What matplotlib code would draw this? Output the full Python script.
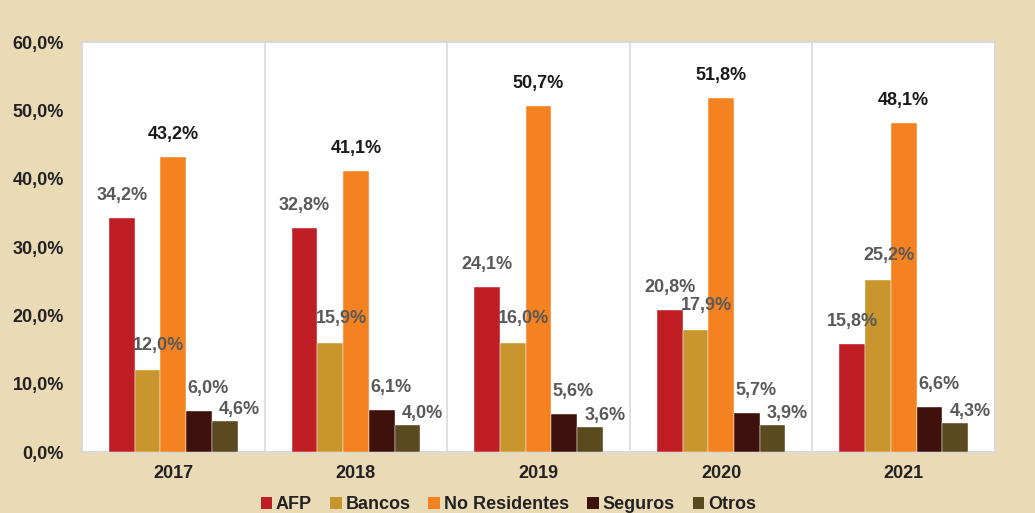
import numpy as np
import matplotlib.pyplot as plt
from matplotlib.patches import Patch

plt.rcParams['font.family'] = ['Liberation Sans', 'DejaVu Sans']

years = ['2017', '2018', '2019', '2020', '2021']
series = ['AFP', 'Bancos', 'No Residentes', 'Seguros', 'Otros']
afp = [34.2, 32.8, 24.1, 20.8, 15.8]
bancos = [12.0, 15.9, 16.0, 17.9, 25.2]
no_res = [43.2, 41.1, 50.7, 51.8, 48.1]
seguros = [6.0, 6.1, 5.6, 5.7, 6.6]
otros = [4.6, 4.0, 3.6, 3.9, 4.3]

colors = ['#BE1E24', '#C9962E', '#F58220', '#3F110C', '#5C4A1F']
# label offsets in pixels (dx, dy) and colour per series
lab_dx = [0, 11, 0, 9, 15]
lab_dy = [14, 16, 14, 14, 3]
lab_col = ['#595959', '#595959', '#1a1a1a', '#595959', '#595959']

bg = '#EBDAB6'
fig = plt.figure(figsize=(10.35, 5.13), dpi=100, facecolor=bg)
ax = fig.add_axes([0.0792, 0.1189, 0.8822, 0.7991])

data = [afp, bancos, no_res, seguros, otros]
x = np.arange(len(years))
w = 0.141
for i, vals in enumerate(data):
    pos = x + (i - 2) * w
    bars = ax.bar(pos, vals, width=w, color=colors[i], label=series[i],
                  edgecolor='white', linewidth=0.3, zorder=3)
    for b, v in zip(bars, vals):
        ax.annotate(f"{v:.1f}%".replace('.', ','),
                    (b.get_x() + b.get_width() / 2, v),
                    xytext=(lab_dx[i], lab_dy[i]), textcoords='offset pixels',
                    ha='center', va='bottom', fontsize=13, fontweight='bold',
                    color=lab_col[i], zorder=4)

ax.set_xlim(-0.5, len(years) - 0.5)
ax.set_ylim(0, 60)
ax.set_yticks(np.arange(0, 61, 10))
ax.set_yticklabels([f"{t:.1f}%".replace('.', ',') for t in np.arange(0, 61, 10)])
ax.set_xticks(x)
ax.set_xticklabels(years)
ax.tick_params(length=0, labelsize=13, colors='#222222')
ax.tick_params(axis='y', pad=13)
ax.tick_params(axis='x', pad=9)
for lbl in ax.get_xticklabels() + ax.get_yticklabels():
    lbl.set_fontweight('bold')

for s in x[:-1] + 0.5:
    ax.axvline(s, color='#D9D9D9', lw=1.2, zorder=1)
for sp in ax.spines.values():
    sp.set_color('#D9D9D9')
    sp.set_linewidth(1.5)

handles = [Patch(facecolor=c, label=s) for c, s in zip(colors, series)]
fig.legend(handles=handles, loc='center', bbox_to_anchor=(0.491, 0.016), ncol=5,
           frameon=False, handlelength=0.65, handleheight=0.65,
           handletextpad=0.2, columnspacing=1.0,
           prop={'size': 13, 'weight': 'bold'}, labelcolor='#222222')

fig.savefig('out.png', dpi=100, facecolor=bg)
